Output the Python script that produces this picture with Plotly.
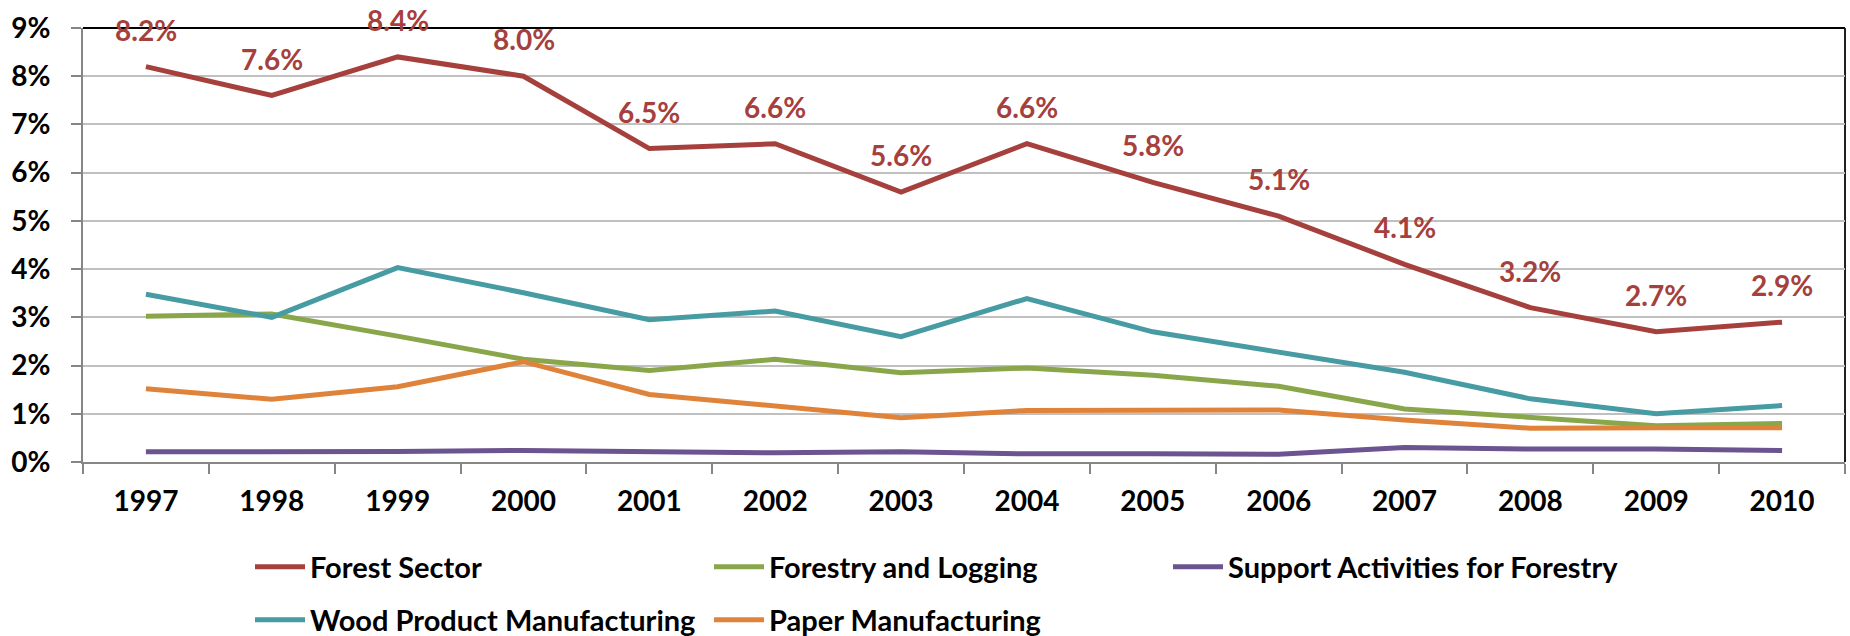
import plotly.graph_objects as go

years = ["1997", "1998", "1999", "2000", "2001", "2002", "2003",
         "2004", "2005", "2006", "2007", "2008", "2009", "2010"]

forest_sector = [8.2, 7.6, 8.4, 8.0, 6.5, 6.6, 5.6, 6.6, 5.8, 5.1, 4.1, 3.2, 2.7, 2.9]
forestry_logging = [3.02, 3.07, 2.61, 2.13, 1.90, 2.13, 1.85, 1.95, 1.80, 1.57, 1.10, 0.93, 0.75, 0.80]
support_activities = [0.21, 0.21, 0.22, 0.24, 0.22, 0.19, 0.21, 0.17, 0.17, 0.16, 0.30, 0.27, 0.27, 0.24]
wood_product = [3.48, 3.00, 4.03, 3.51, 2.95, 3.13, 2.60, 3.39, 2.70, 2.28, 1.86, 1.31, 1.00, 1.17]
paper_mfg = [1.52, 1.30, 1.56, 2.08, 1.40, 1.15, 0.92, 1.07, 1.07, 1.08, 0.87, 0.70, 0.71, 0.71]

y_ticks = [0, 1, 2, 3, 4, 5, 6, 7, 8, 9]
y_tick_labels = [f"{t}%" for t in y_ticks]

FONT = "Lato"
RED = "#A5403D"
series = [
    ("Forest Sector", forest_sector, RED, "legend"),
    ("Forestry and Logging", forestry_logging, "#89A74A", "legend"),
    ("Support Activities for Forestry", support_activities, "#6B5490", "legend"),
    ("Wood Product Manufacturing", wood_product, "#479BA3", "legend2"),
    ("Paper Manufacturing", paper_mfg, "#E0833A", "legend2"),
]

fig = go.Figure()
for name, vals, color, leg in series:
    fig.add_trace(go.Scatter(
        x=years, y=vals, name=name, mode="lines",
        line=dict(color=color, width=5),
        legend=leg,
    ))

# data labels on the Forest Sector series (category index positions)
for i, v in enumerate(forest_sector):
    fig.add_annotation(
        x=i, y=v, text=f"{v:.1f}%", showarrow=False,
        xref="x", yref="y",
        yanchor="middle", yshift=37,
        font=dict(family=FONT, size=28, color=RED, weight="bold"),
    )

legend_common = dict(
    orientation="h", xref="container", yref="container",
    xanchor="left", yanchor="middle",
    entrywidth=394, entrywidthmode="pixels",
    itemwidth=50,
    font=dict(family=FONT, size=29, color="black", weight="bold"),
    bgcolor="rgba(0,0,0,0)", borderwidth=0,
)

fig.update_layout(
    width=1850, height=636,
    margin=dict(l=83, r=5, t=28, b=174),
    paper_bgcolor="white", plot_bgcolor="white",
    showlegend=True,
    legend=dict(x=250 / 1850, y=69 / 636, **legend_common),
    legend2=dict(x=250 / 1850, y=16 / 636, **legend_common),
    xaxis=dict(
        type="category", categoryorder="array", categoryarray=years,
        range=[-0.5, len(years) - 0.5], autorange=False,
        tickson="boundaries", ticks="outside", ticklen=10,
        tickcolor="#868686", tickwidth=2, tickangle=0,
        showline=True, linecolor="#868686", linewidth=2,
        showgrid=False, ticklabelstandoff=13,
        tickfont=dict(family=FONT, size=28, color="black", weight="bold"),
    ),
    yaxis=dict(
        range=[0, 9], autorange=False,
        tickmode="array", tickvals=y_ticks, ticktext=y_tick_labels,
        ticks="outside", ticklen=10, tickcolor="#868686", tickwidth=2,
        showline=True, linecolor="#868686", linewidth=2,
        showgrid=True, gridcolor="#C0C0C0", gridwidth=2,
        zeroline=False, ticklabelstandoff=15,
        tickfont=dict(family=FONT, size=28, color="black", weight="bold"),
    ),
    shapes=[
        dict(type="line", xref="paper", yref="paper", x0=0, x1=1, y0=1, y1=1,
             line=dict(color="black", width=2), layer="between"),
        dict(type="line", xref="paper", yref="paper", x0=1, x1=1, y0=0, y1=1,
             line=dict(color="#202020", width=2), layer="between"),
    ],
)

fig.write_html("out.html")
